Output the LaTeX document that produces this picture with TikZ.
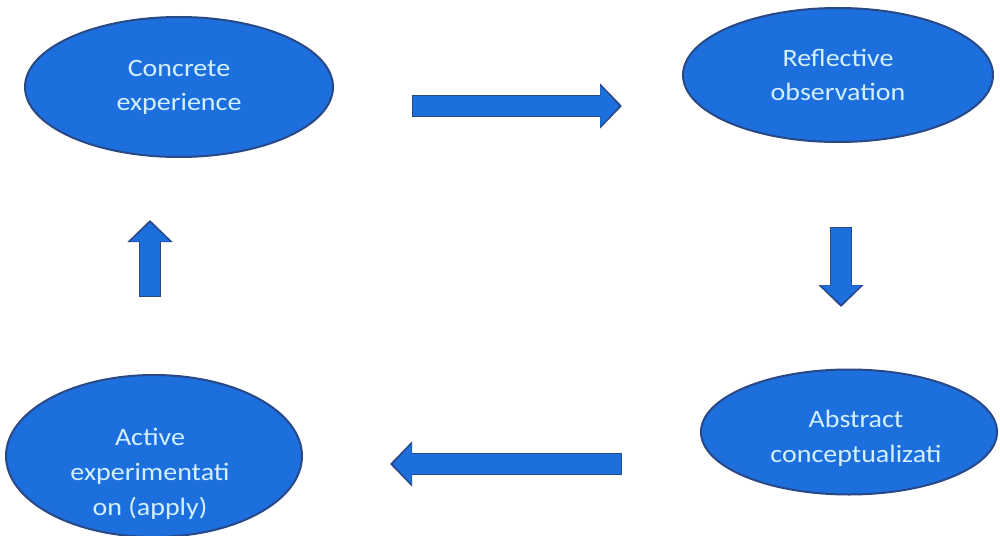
\documentclass[tikz,border=0pt]{standalone}
\usepackage{fontspec}
\setmainfont{Carlito}[FakeStretch=1.12]
\usetikzlibrary{arrows.meta,shapes.geometric}
\definecolor{cyclefill}{HTML}{1D6FDE}
\definecolor{cycleline}{HTML}{284886}
\definecolor{cycletext}{HTML}{D2F0FF}
\tikzset{
  stagebox/.style={ellipse, draw=cycleline, line width=1pt, fill=cyclefill,
    text=cycletext, align=center, inner sep=0pt,
    font=\fontsize{12.5pt}{17pt}\selectfont},
  stagetext/.style={text=cycletext, align=center, inner sep=0pt,
    font=\fontsize{12.5pt}{17.5pt}\selectfont},
  blockarr/.style={line width=11pt, draw=cycleline,
    -{Triangle[length=11pt,width=22pt]},
    postaction={draw=cyclefill, line width=9.6pt, shorten <=0.7pt, shorten >=1.4pt,
      -{Triangle[length=9.4pt,width=19.6pt]}}}
}
\begin{document}
\begin{tikzpicture}[x=0.5pt,y=-0.5pt]
        \useasboundingbox[fill=white] (0,0) rectangle (1000,535);
        \node[stagebox, minimum width=154pt, minimum height=70pt] (concrete) at (179,87) {Concrete\\experience};
        \node[stagebox, minimum width=155pt, minimum height=67pt] (reflect) at (838,75) {Reflective\\observation};
        \node[stagebox, minimum width=148pt, minimum height=62.5pt] (abstract) at (849,432) {};
        \node[stagetext] (abstracttext) at (856,438) {Abstract\\conceptualizati};
        \node[stagebox, minimum width=148pt, minimum height=81pt] (active) at (154,456) {};
        \node[stagetext] (activetext) at (150,474) {Active\\experimentati\\on (apply)};
        % block arrows between the stages
        \coordinate (toptail) at (412,106);
        \coordinate (tophead) at (622,106);
        \coordinate (righttail) at (841,227);
        \coordinate (righthead) at (841,307);
        \coordinate (bottail) at (622,464);
        \coordinate (bothead) at (390,464);
        \coordinate (lefttail) at (150,297);
        \coordinate (lefthead) at (150,220);
        \draw[blockarr] (toptail) -- (tophead);
        \draw[blockarr] (righttail) -- (righthead);
        \draw[blockarr] (bottail) -- (bothead);
        \draw[blockarr] (lefttail) -- (lefthead);
      \end{tikzpicture}
\end{document}
